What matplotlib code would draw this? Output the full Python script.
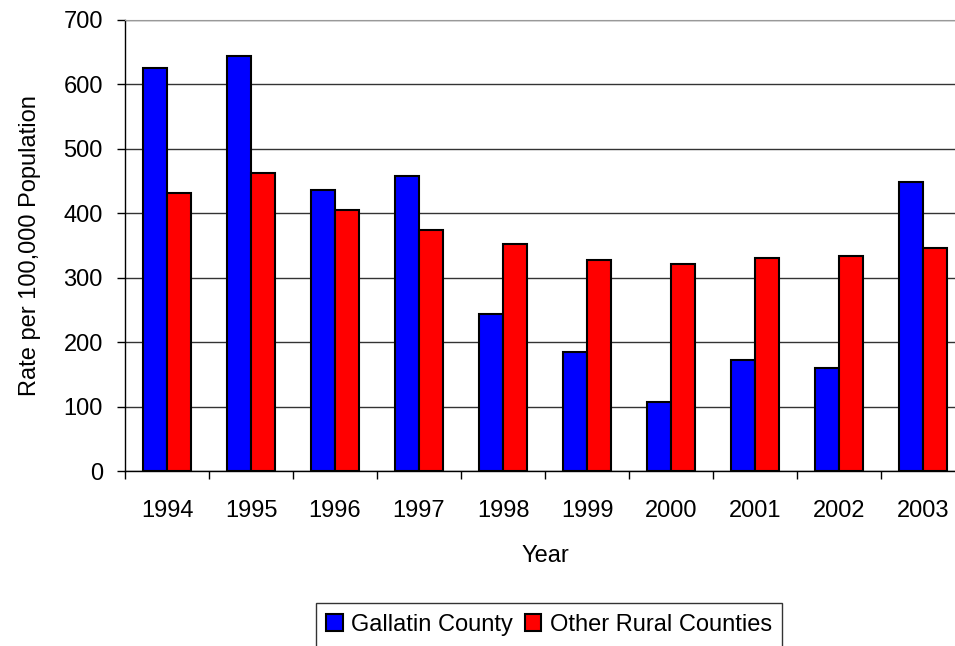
import matplotlib.pyplot as plt
import numpy as np

plt.rcParams['font.family'] = ['Liberation Sans', 'DejaVu Sans']

years = ['1994', '1995', '1996', '1997', '1998', '1999', '2000', '2001', '2002', '2003']
gallatin = [625, 644, 436, 458, 243, 184, 107, 172, 160, 448]
other_rural = [432, 463, 405, 374, 352, 327, 321, 330, 333, 346]

fs = 17

fig = plt.figure(figsize=(9.55, 6.46), dpi=100)
ax = fig.add_axes([125 / 955, 175 / 646, 840 / 955, 451 / 646])

x = np.arange(len(years))
w = 0.28
ax.bar(x - w / 2, gallatin, w, color='#0000ff', edgecolor='black', linewidth=1.5,
       label='Gallatin County', zorder=3)
ax.bar(x + w / 2, other_rural, w, color='#ff0000', edgecolor='black', linewidth=1.5,
       label='Other Rural Counties', zorder=3)

ax.set_xlim(-0.5, len(years) - 0.5)
ax.set_ylim(0, 700)
ax.set_yticks(np.arange(0, 701, 100))
ax.yaxis.grid(True, color='#333333', linewidth=1)
ax.set_axisbelow(True)

ax.set_xticks(x)
ax.set_xticklabels(years)
ax.set_xticks(np.arange(-0.5, len(years)), minor=True)
ax.tick_params(axis='x', which='major', length=0, pad=29, labelsize=fs)
ax.tick_params(axis='x', which='minor', length=6, width=1, direction='out')
ax.tick_params(axis='y', length=6, width=1, direction='out', pad=10, labelsize=fs)
for lbl in ax.get_xticklabels():
    lbl.set_verticalalignment('center')

ax.spines['right'].set_visible(False)
ax.spines['top'].set_color('#999999')
ax.spines['left'].set_linewidth(1)
ax.spines['bottom'].set_linewidth(1)

ax.set_xlabel('Year', fontsize=fs, labelpad=16)
ax.set_ylabel('Rate per 100,000 Population', fontsize=fs, labelpad=16)

leg = fig.legend(loc='center', bbox_to_anchor=(549 / 955, 1 - 625 / 646), ncol=2,
                 fontsize=fs, frameon=True, fancybox=False, edgecolor='black',
                 handlelength=0.7, handleheight=0.7, handletextpad=0.35,
                 columnspacing=0.5, borderpad=0.45, borderaxespad=0)
leg.get_frame().set_linewidth(1)

fig.savefig('out.png', dpi=100)
